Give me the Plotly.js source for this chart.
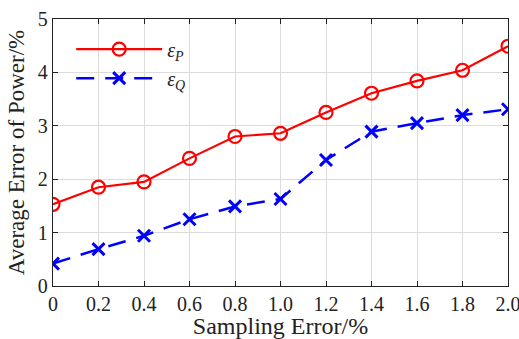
<!DOCTYPE html>
<html><head><meta charset="utf-8">
<script src="https://cdn.plot.ly/plotly-3.0.1.min.js"></script>
<style>body{margin:0;background:#fff}#c{width:519px;height:339px}</style>
</head><body><div id="c"></div>
<script>
const samplingError = [0, 0.2, 0.4, 0.6, 0.8, 1.0, 1.2, 1.4, 1.6, 1.8, 2.0];
const epsP = [1.53, 1.85, 1.95, 2.39, 2.80, 2.86, 3.25, 3.61, 3.84, 4.04, 4.49];
const epsQ = [0.42, 0.69, 0.94, 1.25, 1.49, 1.63, 2.36, 2.89, 3.05, 3.20, 3.31];
const xTickVals = [0, 0.2, 0.4, 0.6, 0.8, 1.0, 1.2, 1.4, 1.6, 1.8, 2.0];
const xTickText = ["0", "0.2", "0.4", "0.6", "0.8", "1.0", "1.2", "1.4", "1.6", "1.8", "2.0"];
const yTickVals = [0, 1, 2, 3, 4, 5];

const FONT = "Liberation Serif";
const traces = [
  {x: samplingError, y: epsP, name: "<i>ε</i><sub><i>P</i></sub>", mode: "lines+markers",
   line: {color: "#ff0000", width: 2.2}, marker: {symbol: "circle-open", size: 13, color: "#ff0000", line: {width: 2.2}}},
  {x: samplingError, y: epsQ, name: "<i>ε</i><sub><i>Q</i></sub>", mode: "lines+markers",
   line: {color: "#0000ff", width: 2.5, dash: "18px,11px"}, marker: {symbol: "x-thin-open", size: 12, color: "#0000ff", line: {width: 3, color: "#0000ff"}}}
];
const axisCommon = {showline: true, mirror: "ticks", linecolor: "#222", linewidth: 1.2, ticks: "inside", ticklen: 5, tickcolor: "#222",
  showgrid: true, gridcolor: "#dcdcdc", gridwidth: 1, zeroline: false, ticklabeloverflow: "allow",
  tickfont: {family: FONT, size: 20, color: "#222"}};
const layout = {
  width: 519, height: 339, margin: {l: 53, r: 11, t: 19, b: 53},
  paper_bgcolor: "#fff", plot_bgcolor: "#fff",
  font: {family: FONT, color: "#222"},
  xaxis: Object.assign({}, axisCommon, {range: [0, 2.0], tickvals: xTickVals, ticktext: xTickText,
    title: {text: "Sampling Error/%", font: {family: FONT, size: 24, color: "#222"}, standoff: 5}}),
  yaxis: Object.assign({}, axisCommon, {range: [0, 5], tickvals: yTickVals,
    title: {text: "Average Error of Power/%", font: {family: FONT, size: 23, color: "#222"}, standoff: 6}}),
  legend: {x: 0.04, y: 0.96, xanchor: "left", yanchor: "top", bgcolor: "rgba(0,0,0,0)", itemwidth: 86,
    font: {family: FONT, size: 20, color: "#222"}, tracegroupgap: 0},
  showlegend: true
};
Plotly.newPlot("c", traces, layout, {displayModeBar: false, staticPlot: true});
</script></body></html>
